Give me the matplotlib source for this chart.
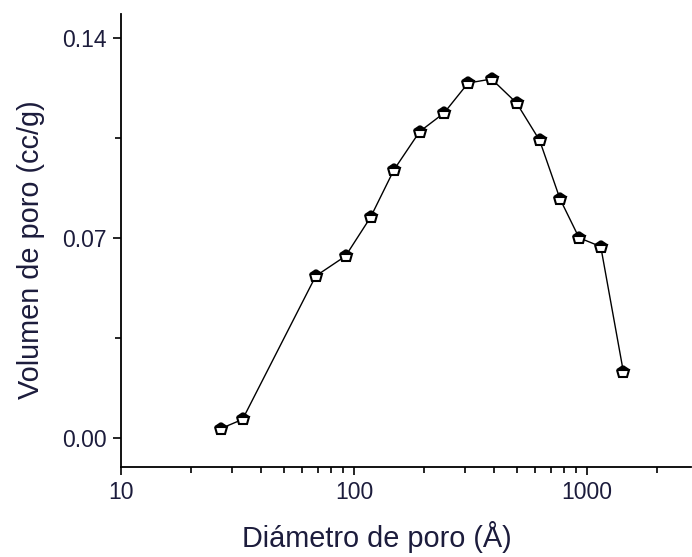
import numpy as np
import matplotlib.pyplot as plt
from matplotlib.ticker import LogLocator, FixedLocator, NullFormatter

# data
diametro = [26.9, 33.3, 68.6, 92.1, 117.9, 148.5, 191.5, 243.6, 308.9,
            389.4, 498.7, 626.1, 765.6, 923.9, 1145, 1432]
volumen = [0.0032, 0.0064, 0.0566, 0.0636, 0.0772, 0.0938, 0.1072, 0.1137,
           0.1242, 0.1256, 0.1172, 0.1041, 0.0836, 0.0700, 0.0669, 0.0230]
y_ticks = [0.00, 0.07, 0.14]
y_labels = ['0.00', '0.07', '0.14']

plt.rcParams['font.family'] = ['Liberation Sans', 'DejaVu Sans']
txt = '#1c1c3c'

fig = plt.figure(figsize=(6.92, 5.57), dpi=100)
ax = fig.add_axes([0.1745, 0.162, 0.8245, 0.813])

ax.plot(diametro, volumen, color='black', lw=1.0, marker='p', ms=9,
        fillstyle='top', markerfacecolor='black', markerfacecoloralt='white',
        markeredgecolor='black', markeredgewidth=1.5)

ax.set_xscale('log')
ax.set_xlim(10, 2800)
ax.set_ylim(-0.0102, 0.1484)

ax.xaxis.set_major_locator(FixedLocator([10, 100, 1000]))
ax.xaxis.set_major_formatter(plt.FuncFormatter(lambda v, p: '%d' % v))
ax.xaxis.set_minor_locator(LogLocator(base=10, subs=np.arange(2, 10)))
ax.xaxis.set_minor_formatter(NullFormatter())
ax.set_yticks(y_ticks)
ax.set_yticklabels(y_labels)
ax.set_yticks([0.035, 0.105], minor=True)

for s in ['top', 'right']:
    ax.spines[s].set_visible(False)
for s in ['left', 'bottom']:
    ax.spines[s].set_linewidth(1.3)

ax.tick_params(which='major', direction='out', length=6, width=1.2,
               labelsize=16.5, labelcolor=txt, pad=4)
ax.tick_params(which='minor', direction='out', length=4, width=1.2)

ax.set_xlabel('Diámetro de poro (Å)', fontsize=20.8, color=txt)
ax.set_ylabel('Volumen de poro (cc/g)', fontsize=20.8, color=txt)
ax.xaxis.set_label_coords(0.449, -0.12)
ax.yaxis.set_label_coords(-0.133, 0.479)

fig.savefig('out.png', dpi=100)
